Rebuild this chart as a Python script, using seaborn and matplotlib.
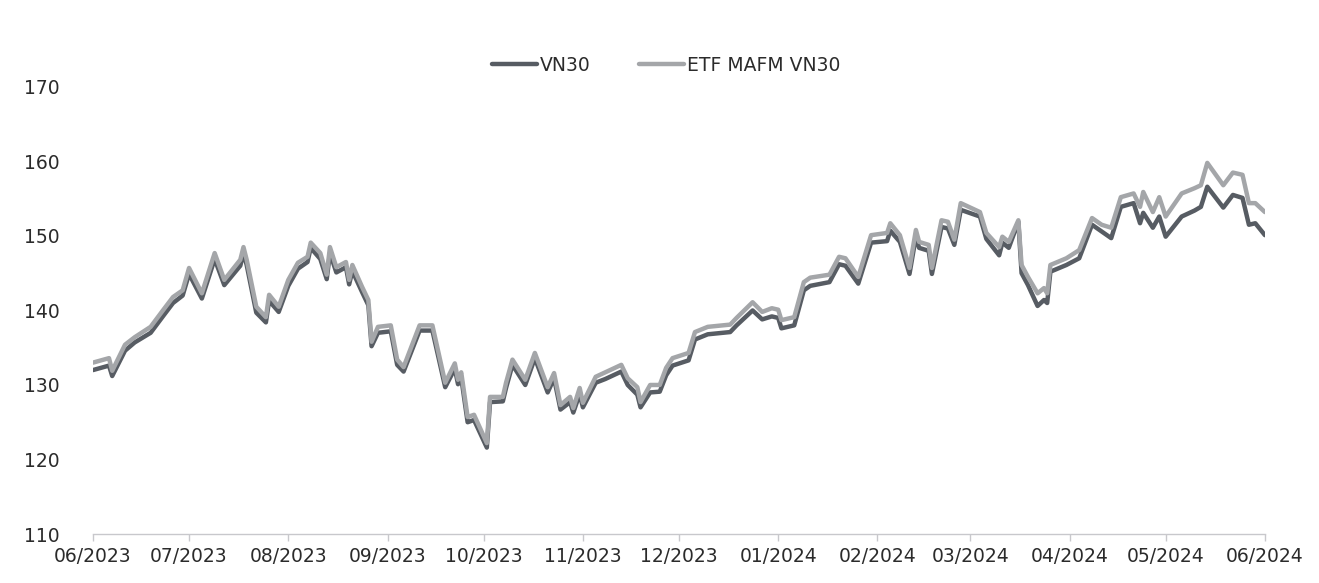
import pandas as pd
import numpy as np
import matplotlib
matplotlib.use("Agg")
import matplotlib.pyplot as plt
import matplotlib.dates as mdates
import seaborn as sns

# ─── DATA ─────────────────────────────────────────────────────────────────────
DATES = [
    "2023-06-01", "2023-06-06", "2023-06-07", "2023-06-11", "2023-06-14", "2023-06-19",
    "2023-06-23", "2023-06-26", "2023-06-29", "2023-07-01", "2023-07-05", "2023-07-09",
    "2023-07-12", "2023-07-17", "2023-07-18", "2023-07-19", "2023-07-22", "2023-07-25",
    "2023-07-26", "2023-07-29", "2023-08-01", "2023-08-04", "2023-08-07", "2023-08-08",
    "2023-08-11", "2023-08-13", "2023-08-14", "2023-08-16", "2023-08-19", "2023-08-20",
    "2023-08-21", "2023-08-24", "2023-08-26", "2023-08-27", "2023-08-29", "2023-09-02",
    "2023-09-04", "2023-09-06", "2023-09-11", "2023-09-15", "2023-09-19", "2023-09-22",
    "2023-09-23", "2023-09-24", "2023-09-26", "2023-09-28", "2023-10-02", "2023-10-03",
    "2023-10-07", "2023-10-08", "2023-10-10", "2023-10-14", "2023-10-17", "2023-10-21",
    "2023-10-23", "2023-10-25", "2023-10-28", "2023-10-29", "2023-10-31", "2023-11-01",
    "2023-11-05", "2023-11-08", "2023-11-13", "2023-11-15", "2023-11-18", "2023-11-19",
    "2023-11-22", "2023-11-25", "2023-11-27", "2023-11-29", "2023-12-04", "2023-12-06",
    "2023-12-10", "2023-12-17", "2023-12-19", "2023-12-24", "2023-12-27", "2023-12-30",
    "2024-01-01", "2024-01-02", "2024-01-06", "2024-01-09", "2024-01-11", "2024-01-17",
    "2024-01-20", "2024-01-22", "2024-01-26", "2024-01-30", "2024-02-04", "2024-02-05",
    "2024-02-08", "2024-02-11", "2024-02-13", "2024-02-14", "2024-02-17", "2024-02-18",
    "2024-02-21", "2024-02-23", "2024-02-25", "2024-02-27", "2024-03-04", "2024-03-06",
    "2024-03-10", "2024-03-11", "2024-03-13", "2024-03-16", "2024-03-17", "2024-03-19",
    "2024-03-22", "2024-03-24", "2024-03-25", "2024-03-26", "2024-03-31", "2024-04-04",
    "2024-04-08", "2024-04-11", "2024-04-14", "2024-04-17", "2024-04-21", "2024-04-23",
    "2024-04-24", "2024-04-27", "2024-04-29", "2024-05-01", "2024-05-06", "2024-05-10",
    "2024-05-12", "2024-05-14", "2024-05-19", "2024-05-22", "2024-05-25", "2024-05-27",
    "2024-05-29", "2024-06-01",
]

ETF_MAFM = [
    133.0, 133.6, 131.9, 135.4, 136.4, 137.8,
    140.1, 141.8, 142.7, 145.7, 142.3, 147.7,
    144.1, 146.8, 148.5, 146.8, 140.5, 139.1,
    142.1, 140.5, 144.1, 146.4, 147.2, 149.1,
    147.7, 144.8, 148.5, 145.8, 146.5, 144.1,
    146.1, 143.2, 141.4, 135.8, 137.8, 138.0,
    133.4, 132.4, 138.0, 138.0, 130.3, 132.9,
    130.7, 131.7, 125.7, 126.0, 122.2, 128.4,
    128.4, 130.3, 133.4, 130.7, 134.3, 129.7,
    131.6, 127.3, 128.4, 126.9, 129.6, 127.6,
    131.1, 131.7, 132.7, 130.9, 129.7, 127.7,
    130.0, 130.0, 132.3, 133.6, 134.3, 137.1,
    137.8, 138.1, 139.0, 141.1, 139.8, 140.3,
    140.1, 138.7, 139.1, 143.8, 144.4, 144.8,
    147.2, 147.0, 144.5, 150.1, 150.4, 151.7,
    150.1, 145.7, 150.8, 149.2, 148.8, 145.7,
    152.1, 151.9, 149.5, 154.4, 153.2, 150.4,
    148.5, 149.9, 149.2, 152.1, 146.1, 144.5,
    142.3, 143.0, 142.3, 146.1, 147.0, 148.1,
    152.4, 151.5, 151.1, 155.2, 155.7, 153.9,
    155.9, 153.2, 155.2, 152.6, 155.7, 156.4,
    156.8, 159.8, 156.8, 158.5, 158.2, 154.4,
    154.4, 153.2,
]

VN30 = [
    132.0, 132.6, 131.2, 134.6, 135.7, 137.0,
    139.3, 141.0, 142.0, 144.9, 141.6, 146.9,
    143.4, 146.0, 147.7, 146.1, 139.7, 138.4,
    141.3, 139.8, 143.3, 145.6, 146.5, 148.4,
    146.9, 144.2, 147.7, 145.1, 145.8, 143.5,
    145.3, 142.5, 140.7, 135.2, 137.0, 137.2,
    132.7, 131.8, 137.3, 137.3, 129.7, 132.2,
    130.1, 131.0, 125.0, 125.3, 121.6, 127.7,
    127.8, 129.6, 132.7, 130.0, 133.6, 129.0,
    130.9, 126.7, 127.7, 126.3, 128.8, 127.0,
    130.3, 130.8, 131.8, 130.0, 128.7, 127.0,
    129.0, 129.1, 131.3, 132.6, 133.3, 136.1,
    136.8, 137.1, 138.0, 140.0, 138.8, 139.2,
    139.0, 137.6, 138.0, 142.7, 143.3, 143.8,
    146.2, 146.0, 143.6, 149.1, 149.3, 150.7,
    149.2, 144.9, 149.9, 148.4, 148.0, 144.9,
    151.2, 151.0, 148.8, 153.5, 152.6, 149.6,
    147.4, 149.1, 148.4, 151.9, 145.0, 143.4,
    140.6, 141.4, 141.0, 145.2, 146.1, 147.0,
    151.5, 150.6, 149.7, 153.9, 154.4, 151.7,
    153.1, 151.1, 152.6, 149.9, 152.6, 153.4,
    153.9, 156.6, 153.8, 155.5, 155.1, 151.5,
    151.7, 150.1,
]

SERIES = ["VN30", "ETF MAFM VN30"]
COLORS = {"VN30": "#575c63", "ETF MAFM VN30": "#a4a6a9"}
Y_TICKS = [110, 120, 130, 140, 150, 160, 170]

# ─── BUILD LONG FRAME ─────────────────────────────────────────────────────────
dates = pd.to_datetime(DATES)
df = pd.concat([
    pd.DataFrame({"date": dates, "value": VN30, "series": "VN30"}),
    pd.DataFrame({"date": dates, "value": ETF_MAFM, "series": "ETF MAFM VN30"}),
], ignore_index=True)

# ─── PLOT ─────────────────────────────────────────────────────────────────────
sns.set_theme(style="white")
plt.rcParams["font.family"] = ["DejaVu Sans"]

fig = plt.figure(figsize=(13.19, 5.83), dpi=100)
ax = fig.add_axes([0.0705, 0.084, 0.8885, 0.767])

sns.lineplot(
    data=df, x="date", y="value", hue="series", hue_order=SERIES,
    palette=COLORS, linewidth=3.2, ax=ax, legend=False
)

ax.set_xlim(pd.Timestamp("2023-06-01"), pd.Timestamp("2024-06-01"))
ax.set_ylim(110, 170)
ax.set_yticks(Y_TICKS)
ax.set_xlabel("")
ax.set_ylabel("")

ax.xaxis.set_major_locator(mdates.MonthLocator())
ax.xaxis.set_major_formatter(mdates.DateFormatter("%m/%Y"))

ax.tick_params(axis="x", which="major", bottom=True, length=5, width=1,
               color="#c8c8cc", labelsize=13.5, labelcolor="#2b2b2b", pad=4)
ax.tick_params(axis="y", left=False, labelsize=13.5, labelcolor="#2b2b2b", pad=18)

for side in ["top", "right", "left"]:
    ax.spines[side].set_visible(False)
ax.spines["bottom"].set_color("#c8c8cc")
ax.spines["bottom"].set_linewidth(1)

# legend, top centre
handles = [plt.Line2D([], [], color=COLORS[s], linewidth=3.2) for s in SERIES]
fig.legend(handles, SERIES, loc="center", bbox_to_anchor=(0.505, 0.888),
           ncol=2, frameon=False, fontsize=13.5, handlelength=2.4,
           handletextpad=0.15, columnspacing=2.6, labelcolor="#2b2b2b")

fig.savefig("out.png", dpi=100)
